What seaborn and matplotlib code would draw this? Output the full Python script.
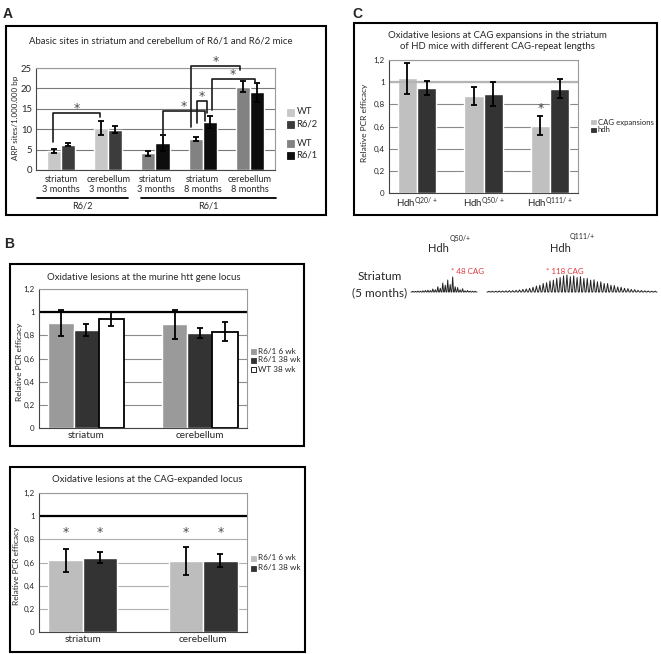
import matplotlib
matplotlib.use("Agg")
import matplotlib.pyplot as plt
from matplotlib.patches import Rectangle
import numpy as np
import pandas as pd
import seaborn as sns

# %% data
# A: abasic sites (ARP sites / 1.000.000 bp)
a_keys = ["r62_str_3", "r62_cer_3", "r61_str_3", "r61_str_8", "r61_cer_8"]
a_ticklabels = ["striatum\n3 months", "cerebellum\n3 months", "striatum\n3 months",
                "striatum\n8 months", "cerebellum\n8 months"]
a_wt = [4.6, 10.3, 4.1, 7.6, 20.4]
a_wt_err = [0.5, 1.7, 0.6, 0.4, 1.4]
a_hd = [6.2, 9.9, 6.6, 11.7, 19.0]
a_hd_err = [0.4, 0.8, 1.9, 1.5, 2.3]
a_model = ["R6/2", "R6/2", "R6/1", "R6/1", "R6/1"]
a_yticks = [0, 5, 10, 15, 20, 25]
# significance brackets: (left cat, left hue, dx), (right cat, right hue, dx), y_left, y_top, y_right
a_brackets = [
    ((0, 0, -0.02), (1, 0, -0.03), 6.9, 14.0, 13.1),
    ((2, 1, 0.0), (3, 1, -0.10), 8.4, 14.5, 12.0),
    ((3, 0, 0.02), (3, 1, -0.07), 11.4, 17.0, 13.9),
    ((3, 0, -0.09), (4, 0, -0.06), 10.6, 25.6, 24.4),
    ((3, 1, 0.04), (4, 1, -0.05), 14.7, 22.3, 21.6),
]

# B: relative PCR efficacy
b_tissues = ["striatum", "cerebellum"]
b1_groups = ["R6/1 6 wk", "R6/1 38 wk", "WT 38 wk"]
b1_6wk = [0.905, 0.896]
b1_6wk_err = [0.115, 0.125]
b1_38wk = [0.845, 0.82]
b1_38wk_err = [0.05, 0.042]
b1_wt = [0.94, 0.833]
b1_wt_err = [0.06, 0.078]

b2_groups = ["R6/1 6 wk", "R6/1 38 wk"]
b2_6wk = [0.619, 0.61]
b2_6wk_err = [0.1, 0.12]
b2_38wk = [0.642, 0.616]
b2_38wk_err = [0.045, 0.055]

pcr_yticks = [0, 0.2, 0.4, 0.6, 0.8, 1.0, 1.2]
pcr_yticklabels = ["0", "0,2", "0,4", "0,6", "0,8", "1", "1,2"]

# C: CAG expansions vs hdh
c_lines = ["Q20/+", "Q50/+", "Q111/+"]
c_groups = ["CAG expansions", "hdh"]
c_cag = [1.036, 0.875, 0.606]
c_cag_err = [0.14, 0.08, 0.085]
c_hdh = [0.95, 0.893, 0.94]
c_hdh_err = [0.065, 0.11, 0.085]

# fragment analysis traces (relative peak heights)
q50_peaks = [0.05, 0.04, 0.06, 0.05, 0.08, 0.1, 0.12, 0.1, 0.2, 0.15, 0.35, 0.25, 0.6,
             0.45, 0.8, 0.5, 1.0, 0.35, 0.3, 0.15, 0.22, 0.08, 0.1, 0.06, 0.05, 0.05]
q111_peaks = [0.04, 0.05, 0.05, 0.06, 0.06, 0.07, 0.08, 0.08, 0.1, 0.12, 0.15, 0.18, 0.22,
              0.28, 0.35, 0.4, 0.5, 0.55, 0.65, 0.7, 0.8, 0.85, 0.95, 1.0, 0.9, 0.95, 0.85,
              0.9, 0.8, 0.8, 0.7, 0.72, 0.6, 0.6, 0.5, 0.5, 0.4, 0.38, 0.3, 0.28, 0.22, 0.2,
              0.15, 0.14, 0.1, 0.09, 0.07, 0.06, 0.05, 0.05]

# %% style
sns.set_style("white")
plt.rcParams["font.family"] = ["Lato", "DejaVu Sans"]
plt.rcParams["mathtext.fontset"] = "custom"
plt.rcParams["mathtext.rm"] = "Lato"

W, H = 661, 654
fig = plt.figure(figsize=(W / 100, H / 100), dpi=100)

# overlay axes in pixel coordinates for boxes, labels and legends
ov = fig.add_axes([0, 0, 1, 1])
ov.set_xlim(0, W)
ov.set_ylim(H, 0)
ov.axis("off")


def px_axes(left, top, right, bottom):
    return fig.add_axes([left / W, 1 - bottom / H, (right - left) / W, (bottom - top) / H])


def draw_bars(ax, cats, groups, values, errors, colors, width):
    df = pd.DataFrame({
        "cat": [c for g in groups for c in cats],
        "grp": [g for g in groups for c in cats],
        "val": [v for vals in values for v in vals],
    })
    sns.barplot(data=df, x="cat", y="val", hue="grp", order=cats, hue_order=groups,
                palette=colors, width=width, errorbar=None, saturation=1, legend=False, ax=ax)
    bars = list(ax.containers)
    for cont, errs in zip(bars, errors):
        xs = [b.get_x() + b.get_width() / 2 for b in cont]
        hs = [b.get_height() for b in cont]
        ax.errorbar(xs, hs, yerr=errs, fmt="none", ecolor="black", elinewidth=1.3,
                    capsize=2, capthick=1.3, zorder=4)
    ax.set_xlabel("")
    ax.set_ylabel("")
    return bars


def style_axes(ax, ylim, yticks, yticklabels, fs, grid_color="#8c8c8c"):
    ax.set_ylim(*ylim)
    ax.set_yticks(yticks)
    ax.set_yticklabels(yticklabels, fontsize=fs)
    ax.set_axisbelow(True)
    ax.yaxis.grid(True, color=grid_color, lw=0.8)
    ax.xaxis.grid(False)
    for s in ["top", "right"]:
        ax.spines[s].set_color("#9a9a9a")
    for s in ["left", "bottom"]:
        ax.spines[s].set_color("#444444")
    n = len(ax.get_xticks())
    ax.set_xticks(np.arange(n - 1) + 0.5, minor=True)
    ax.tick_params(axis="x", which="major", length=0)
    ax.tick_params(axis="x", which="minor", length=3, color="#444444")
    ax.tick_params(axis="y", length=2, pad=1, color="#444444")


def star(ax, x, y, **kw):
    ax.text(x, y, "*", fontsize=9, family="DejaVu Sans", color="#4a4a4a",
            ha="center", va="center", **kw)


def box(x0, y0, x1, y1):
    ov.add_patch(Rectangle((x0, y0), x1 - x0, y1 - y0, fill=False, lw=1.5, ec="black"))


def legend_entries(x, ys, labels, colors, size, fs):
    for y, lab, col in zip(ys, labels, colors):
        ec = "black" if col == "white" else col
        ov.add_patch(Rectangle((x, y - size / 2), size, size, fc=col, ec=ec, lw=0.6))
        ov.text(x + size + 2.5, y, lab, fontsize=fs, va="center", ha="left")


# panel letters
for lab, x, y in [("A", 3, 7), ("B", 4, 237), ("C", 352, 7)]:
    ov.text(x, y, lab, fontsize=10, fontweight="bold", family="Liberation Sans",
            va="top", ha="left")

# %% A
box(6, 26, 326, 215)
ov.text(161, 41, "Abasic sites in striatum and cerebellum of R6/1 and R6/2 mice",
        fontsize=6.9, ha="center", va="center")
axA = px_axes(36, 68, 275, 170)
barsA = draw_bars(axA, a_keys, ["WT", "HD"], [a_wt, a_hd], [a_wt_err, a_hd_err],
                  ["#c8c8c8", "#3c3c3c"], 0.6)
r61_colors = ["#828282", "#0d0d0d"]
for cont, col in zip(barsA, r61_colors):
    for bar, model in zip(cont, a_model):
        if model == "R6/1":
            bar.set_facecolor(col)
style_axes(axA, (0, 25), a_yticks, [str(t) for t in a_yticks], 6.8, grid_color="#7a7a7a")
axA.set_xticks(range(len(a_keys)))
axA.set_xticklabels(a_ticklabels, fontsize=6.6, linespacing=1.2)
axA.tick_params(axis="x", which="major", pad=3.5)

for (lc, lh, ldx), (rc, rh, rdx), yl, yt, yr in a_brackets:
    lb = barsA[lh][lc]
    rb = barsA[rh][rc]
    xl = lb.get_x() + lb.get_width() / 2 + ldx
    xr = rb.get_x() + rb.get_width() / 2 + rdx
    axA.plot([xl, xl, xr, xr], [yl, yt, yt, yr], color="#1a1a1a", lw=1.2,
             clip_on=False, zorder=5)
    star(axA, (xl + xr) / 2, yt + 1.0, clip_on=False)

ov.text(16, 118, "ARP sites/1.000.000 bp", rotation=90, fontsize=5.8,
        ha="center", va="center")
ov.plot([37, 128], [198, 198], color="black", lw=1.3)
ov.plot([141, 276], [198, 198], color="black", lw=1.3)
ov.text(82, 206, "R6/2", fontsize=6.6, ha="center", va="center")
ov.text(208, 206, "R6/1", fontsize=6.6, ha="center", va="center")
legend_entries(287, [112, 124, 143, 155], ["WT", "R6/2", "WT", "R6/1"],
               ["#c8c8c8", "#3c3c3c", "#828282", "#0d0d0d"], 7, 6.8)

# %% B top
box(10, 264, 304, 446)
ov.text(144, 277, "Oxidative lesions at the murine htt gene locus", fontsize=6.9,
        ha="center", va="center")
axB1 = px_axes(39, 289, 247, 428)
barsB1 = draw_bars(axB1, b_tissues, b1_groups, [b1_6wk, b1_38wk, b1_wt],
                   [b1_6wk_err, b1_38wk_err, b1_wt_err], ["#9a9a9a", "#333333", "white"], 0.66)
for bar in barsB1[2]:
    bar.set_edgecolor("black")
    bar.set_linewidth(1.3)
style_axes(axB1, (0, 1.2), pcr_yticks, pcr_yticklabels, 5.8)
axB1.axhline(1, color="black", lw=1.6, zorder=1.5)
axB1.set_xticks(range(len(b_tissues)))
axB1.set_xticklabels(b_tissues, fontsize=7.2)
axB1.tick_params(axis="x", which="major", pad=2.5)
ov.text(20, 362, "Relative PCR efficacy", rotation=90, fontsize=6,
        ha="center", va="center")
legend_entries(251, [351, 360, 369], b1_groups, ["#9a9a9a", "#333333", "white"], 5, 5.9)

# %% B bottom
box(10, 467, 305, 652)
ov.text(147, 480, "Oxidative lesions at the CAG-expanded locus", fontsize=6.9,
        ha="center", va="center")
axB2 = px_axes(39, 493, 247, 632)
barsB2 = draw_bars(axB2, b_tissues, b2_groups, [b2_6wk, b2_38wk],
                   [b2_6wk_err, b2_38wk_err], ["#bdbdbd", "#333333"], 0.57)
style_axes(axB2, (0, 1.2), pcr_yticks, pcr_yticklabels, 5.8, grid_color="#b0b0b0")
axB2.axhline(1, color="black", lw=1.6, zorder=1.5)
axB2.set_xticks(range(len(b_tissues)))
axB2.set_xticklabels(b_tissues, fontsize=7.2)
axB2.tick_params(axis="x", which="major", pad=2.5)
for cont in barsB2:
    for bar in cont:
        star(axB2, bar.get_x() + bar.get_width() / 2, 0.86)
ov.text(17, 566, "Relative PCR efficacy", rotation=90, fontsize=6,
        ha="center", va="center")
legend_entries(251, [558, 568], b2_groups, ["#bdbdbd", "#333333"], 5, 5.9)

# %% C
box(354, 23, 657, 215)
ov.text(497, 41, "Oxidative lesions at CAG expansions in the striatum\n"
        "of HD mice with different CAG-repeat lengths", fontsize=6.9,
        ha="center", va="center", linespacing=1.3)
axC = px_axes(389, 60, 578, 193)
barsC = draw_bars(axC, c_lines, c_groups, [c_cag, c_hdh], [c_cag_err, c_hdh_err],
                  ["#c0c0c0", "#333333"], 0.58)
style_axes(axC, (0, 1.2), pcr_yticks, pcr_yticklabels, 5.8, grid_color="#8a8a8a")
axC.axhline(1, color="#b5b5b5", lw=1.6, zorder=1.5)
axC.set_xticks(range(len(c_lines)))
axC.set_xticklabels([r"$\mathregular{Hdh^{%s}}$" % q for q in c_lines], fontsize=7)
axC.tick_params(axis="x", which="major", pad=2)
star_bar = barsC[0][2]
star(axC, star_bar.get_x() + star_bar.get_width() / 2, 0.76)
ov.text(365, 123, "Relative PCR efficacy", rotation=90, fontsize=6,
        ha="center", va="center")
legend_entries(591, [122, 130], c_groups, ["#c0c0c0", "#333333"], 4.5, 5.6)

# %% traces


def draw_trace(x0, x1, base, peaks, height):
    xs_c = np.linspace(x0 + 2, x1 - 2, len(peaks))
    half = (xs_c[1] - xs_c[0]) * 0.35
    xs, ys = [x0], [base]
    for xc, h in zip(xs_c, peaks):
        xs += [xc - half, xc, xc + half]
        ys += [base, base - h * height, base]
    xs.append(x1)
    ys.append(base)
    ov.plot(xs, ys, color="#222222", lw=0.7)


draw_trace(411, 477, 292, q50_peaks, 15)
draw_trace(487, 657, 292, q111_peaks, 17)

ov.text(438, 248, "Hdh", fontsize=8, ha="center", va="center")
ov.text(450, 238, "Q50/+", fontsize=5, ha="left", va="center")
ov.text(560, 248, "Hdh", fontsize=8, ha="center", va="center")
ov.text(570, 237, "Q111/+", fontsize=5, ha="left", va="center")
ov.text(380, 277, "Striatum", fontsize=8.5, ha="center", va="center")
ov.text(380, 293, "(5 months)", fontsize=8.5, ha="center", va="center")
ov.text(451, 271, "* 48 CAG", fontsize=5.8, color="#e0393e", ha="left", va="center")
ov.text(546, 271, "* 118 CAG", fontsize=5.8, color="#e0393e", ha="left", va="center")

fig.savefig("out.png", dpi=100)
